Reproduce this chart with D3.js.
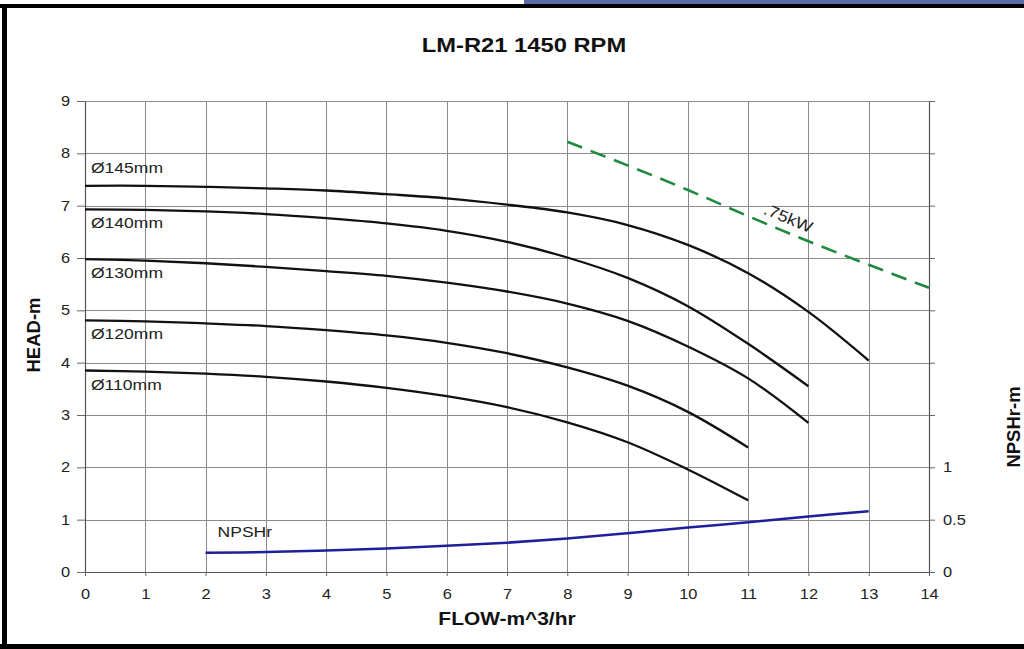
<!DOCTYPE html>
<html>
<head>
<meta charset="utf-8">
<script src="https://cdn.jsdelivr.net/npm/d3@7"></script>
<style>
  html, body { margin: 0; padding: 0; background: #fff; }
  svg { display: block; font-family: "Liberation Sans", Arial, sans-serif; }
</style>
</head>
<body>
<svg id="chart" width="1024" height="649"></svg>
<script>
// ---------- data ----------
const title = "LM-R21 1450 RPM";
const xTitle = "FLOW-m^3/hr";
const yTitle = "HEAD-m";
const y2Title = "NPSHr-m";
const xTicks = [0,1,2,3,4,5,6,7,8,9,10,11,12,13,14];
const yTicks = [0,1,2,3,4,5,6,7,8,9];
const y2Labels = [0, 0.5, 1];

const impellerNames = ["Ø145mm", "Ø140mm", "Ø130mm", "Ø120mm", "Ø110mm"];
const head145 = [7.38, 7.38, 7.36, 7.33, 7.29, 7.22, 7.14, 7.02, 6.87, 6.63, 6.25, 5.71, 4.97, 4.04];
const head140 = [6.93, 6.92, 6.89, 6.84, 6.76, 6.66, 6.52, 6.31, 6.01, 5.62, 5.08, 4.36, 3.55];
const head130 = [5.98, 5.95, 5.90, 5.83, 5.75, 5.66, 5.53, 5.36, 5.13, 4.80, 4.31, 3.70, 2.85];
const head120 = [4.81, 4.79, 4.75, 4.70, 4.62, 4.52, 4.38, 4.18, 3.91, 3.56, 3.06, 2.38];
const head110 = [3.85, 3.83, 3.79, 3.73, 3.64, 3.52, 3.36, 3.15, 2.86, 2.48, 1.96, 1.37];
const curveFlowStart = 0; // each head series starts at flow 0, step 1

const npshFlow = [2, 3, 4, 5, 6, 7, 8, 9, 10, 11, 12, 13];
const npshValues = [0.185, 0.19, 0.205, 0.225, 0.25, 0.28, 0.32, 0.37, 0.425, 0.475, 0.53, 0.58];
const npshName = "NPSHr";

const powerFlow = [8, 9, 10, 11, 12, 13, 14];
const powerHead = [8.22, 7.77, 7.30, 6.80, 6.32, 5.87, 5.43];
const powerName = ".75kW";

// ---------- layout ----------
const svg = d3.select("#chart");
const X0 = 85, X1 = 929, Y0 = 572, Y1 = 101;
const x = d3.scaleLinear().domain([0, 14]).range([X0, X1]);
const y = d3.scaleLinear().domain([0, 9]).range([Y0, Y1]);
const y2 = d3.scaleLinear().domain([0, 4.5]).range([Y0, Y1]);
const STRETCH = 1.13;
function stretch(sel, f) {
  sel.each(function () {
    const w = this.getComputedTextLength();
    if (w > 0) d3.select(this).attr("textLength", w * (f || STRETCH)).attr("lengthAdjust", "spacingAndGlyphs");
  });
}

// frame
svg.append("rect").attr("x", 0).attr("y", 0).attr("width", 1024).attr("height", 649).attr("fill", "#fff");
svg.append("rect").attr("x", 524).attr("y", 0).attr("width", 500).attr("height", 4).attr("fill", "#5b6ca8");
svg.append("rect").attr("x", 0).attr("y", 4).attr("width", 1024).attr("height", 4).attr("fill", "#000");
svg.append("rect").attr("x", 2).attr("y", 4).attr("width", 5).attr("height", 645).attr("fill", "#000");
svg.append("rect").attr("x", 0).attr("y", 644).attr("width", 1024).attr("height", 5).attr("fill", "#000");

// grid
const grid = svg.append("g").attr("stroke", "#8a8a8a").attr("stroke-width", 1);
grid.selectAll("line.v").data(xTicks).join("line")
  .attr("x1", d => Math.round(x(d)) + 0.5).attr("x2", d => Math.round(x(d)) + 0.5)
  .attr("y1", Y1).attr("y2", Y0);
grid.selectAll("line.h").data(yTicks).join("line")
  .attr("y1", d => Math.round(y(d)) + 0.5).attr("y2", d => Math.round(y(d)) + 0.5)
  .attr("x1", X0).attr("x2", X1);

// axes
const axisStyle = g => {
  g.select(".domain").attr("stroke", "#555").attr("stroke-width", 1.2);
  g.selectAll(".tick line").attr("stroke", "#666");
  g.selectAll(".tick text").attr("fill", "#222").style("font-size", "14.5px")
    .style("font-family", '"Liberation Sans", Arial, sans-serif');
};
const gx = svg.append("g").attr("transform", `translate(0,${Y0})`)
  .call(d3.axisBottom(x).tickValues(xTicks).tickSize(4).tickPadding(13).tickSizeOuter(0));
axisStyle(gx);
const gy = svg.append("g").attr("transform", `translate(${X0},0)`)
  .call(d3.axisLeft(y).tickValues(yTicks).tickSize(8).tickPadding(7).tickSizeOuter(0));
axisStyle(gy);
const gy2 = svg.append("g").attr("transform", `translate(${X1},0)`)
  .call(d3.axisRight(y2).tickValues(d3.range(0, 4.51, 0.5)).tickSize(6).tickPadding(8).tickSizeOuter(0)
    .tickFormat(d => y2Labels.includes(d) ? d3.format("~g")(d) : ""));
axisStyle(gy2);
[gx, gy, gy2].forEach(g => stretch(g.selectAll(".tick text")));

// titles
const tt = svg.append("text").attr("x", 524).attr("y", 52).attr("text-anchor", "middle")
  .style("font-size", "21px").style("font-weight", "bold").attr("fill", "#111").text(title);
stretch(tt);
const xt = svg.append("text").attr("x", 507).attr("y", 625).attr("text-anchor", "middle")
  .style("font-size", "18.5px").style("font-weight", "bold").attr("fill", "#111").text(xTitle);
stretch(xt);
svg.append("text").attr("transform", "translate(40,335) rotate(-90)").attr("text-anchor", "middle")
  .style("font-size", "18.5px").style("font-weight", "bold").attr("fill", "#111").text(yTitle);
svg.append("text").attr("transform", "translate(1020,427) rotate(-90)").attr("text-anchor", "middle")
  .style("font-size", "18.5px").style("font-weight", "bold").attr("fill", "#111").text(y2Title);

// impeller curves
const heads = [head145, head140, head130, head120, head110];
const line = d3.line().x(d => x(d[0])).y(d => y(d[1])).curve(d3.curveCatmullRom.alpha(0.5));
const curveG = svg.append("g");
heads.forEach((h) => {
  const pts = h.map((v, i) => [curveFlowStart + i, v]);
  curveG.append("path").attr("d", line(pts)).attr("fill", "none")
    .attr("stroke", "#111").attr("stroke-width", 2.3).attr("stroke-linecap", "butt");
});
// curve labels: 145 above its curve, others below
heads.forEach((h, i) => {
  const dy = i === 0 ? -13 : 19;
  const t = svg.append("text").attr("x", x(0) + 6).attr("y", y(h[0]) + dy)
    .style("font-size", "15.5px").attr("fill", "#222").text(impellerNames[i]);
  stretch(t);
});

// NPSHr curve
const npshLine = d3.line().x((d, i) => x(npshFlow[i])).y(d => y2(d)).curve(d3.curveCatmullRom.alpha(0.5));
svg.append("path").attr("d", npshLine(npshValues)).attr("fill", "none")
  .attr("stroke", "#1f1f9c").attr("stroke-width", 2.5);
const nl = svg.append("text").attr("x", x(npshFlow[0]) + 12).attr("y", y2(npshValues[0]) - 16)
  .style("font-size", "15.5px").attr("fill", "#222").text(npshName);
stretch(nl);

// power line
const pLine = d3.line().x((d, i) => x(powerFlow[i])).y(d => y(d)).curve(d3.curveCatmullRom.alpha(0.5));
svg.append("path").attr("d", pLine(powerHead)).attr("fill", "none")
  .attr("stroke", "#1e8a3e").attr("stroke-width", 2.6).attr("stroke-dasharray", "16,9");
const pa = [x(powerFlow[3]), y(powerHead[3])], pb = [x(powerFlow[4]), y(powerHead[4])];
const ang = Math.atan2(pb[1] - pa[1], pb[0] - pa[0]) * 180 / Math.PI;
const fx = 11.6, fy = powerHead[3] + (powerHead[4] - powerHead[3]) * (fx - 11);
const pt = svg.append("text")
  .attr("transform", `translate(${x(fx) + 4},${y(fy) - 13}) rotate(${ang})`)
  .attr("text-anchor", "middle").attr("dominant-baseline", "central")
  .style("font-size", "16px").attr("fill", "#222").text(powerName);
stretch(pt);
</script>
</body>
</html>
